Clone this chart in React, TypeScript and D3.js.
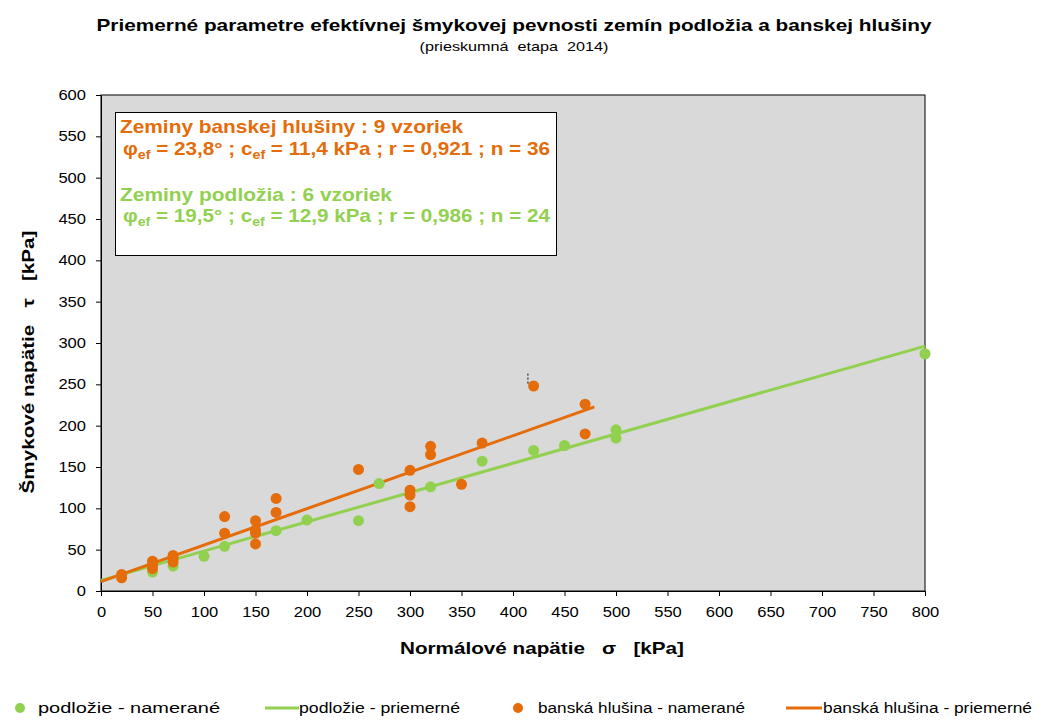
import React, { useRef, useEffect } from 'react'
import * as d3 from 'd3'

// podložie - namerané (sigma, tau) [kPa]
const podlozieSigma = [20, 50, 70, 100, 120, 170, 200, 250, 270, 320, 370, 420, 450, 500, 500, 800]
const podlozieTau = [17, 23, 30, 42, 54, 73, 86, 85, 130, 126, 157, 170, 176, 195, 185, 287]

// banská hlušina - namerané
const hlusinaSigma = [20, 20, 50, 50, 50, 70, 70, 70, 120, 120, 150, 150, 150, 150, 170, 170, 250, 300, 300, 300, 300, 320, 320, 350, 370, 420, 470, 470]
const hlusinaTau = [16, 20, 27, 31, 36, 35, 39, 43, 70, 90, 57, 70, 74, 85, 95, 112, 147, 102, 116, 122, 146, 165, 175, 129, 179, 248, 226, 190]

// priemerné (regression) lines, end points
const podlozieLineSigma = [0, 800]
const podlozieLineTau = [12.9, 296.2]
const hlusinaLineSigma = [0, 479]
const hlusinaLineTau = [11.4, 222.7]

const xTicks = d3.range(0, 801, 50)
const yTicks = d3.range(0, 601, 50)

const legendLabels = ['podložie - namerané', 'podložie - priemerné', 'banská hlušina - namerané', 'banská hlušina - priemerné']

const ORANGE = '#E46C0A'
const GREEN = '#92D050'
const FONT = 'Liberation Sans, Arial, sans-serif'

export default function App() {
    const ref = useRef<SVGSVGElement>(null)

    useEffect(() => {
        const svg = d3.select(ref.current)
        svg.selectAll('*').remove()
        svg.attr('font-family', FONT)

        const x = d3.scaleLinear().domain([0, 800]).range([101, 925])
        const y = d3.scaleLinear().domain([0, 600]).range([591, 95])

        // title
        svg.append('text')
            .attr('x', 514).attr('y', 31)
            .attr('text-anchor', 'middle')
            .attr('font-weight', 'bold').attr('font-size', 17)
            .attr('textLength', 835).attr('lengthAdjust', 'spacingAndGlyphs')
            .text('Priemerné parametre efektívnej šmykovej pevnosti zemín podložia a banskej hlušiny')
        svg.append('text')
            .attr('x', 514).attr('y', 51)
            .attr('text-anchor', 'middle')
            .attr('font-size', 13)
            .attr('textLength', 189).attr('lengthAdjust', 'spacingAndGlyphs')
            .attr('xml:space', 'preserve')
            .text('(prieskumná  etapa  2014)')

        // plot area
        svg.append('rect')
            .attr('x', x(0)).attr('y', y(600))
            .attr('width', x(800) - x(0)).attr('height', y(0) - y(600))
            .attr('fill', '#D9D9D9').attr('stroke', '#000').attr('stroke-width', 1)

        // axes
        const xAxis = svg.append('g')
            .attr('transform', 'translate(0,' + y(0) + ')')
            .call(d3.axisBottom(x).tickValues(xTicks).tickSize(5).tickSizeOuter(0).tickPadding(11))
        const yAxis = svg.append('g')
            .attr('transform', 'translate(' + x(0) + ',0)')
            .call(d3.axisLeft(y).tickValues(yTicks).tickSize(5).tickSizeOuter(0).tickPadding(10))
        for (const g of [xAxis, yAxis]) {
            g.select('.domain').attr('stroke', '#000')
            g.selectAll('line').attr('stroke', '#000')
            g.selectAll('text')
                .attr('font-family', FONT).attr('font-size', 14).attr('fill', '#000')
                .attr('textLength', (d: any) => String(d).length * 9.2)
                .attr('lengthAdjust', 'spacingAndGlyphs')
        }

        // axis titles
        svg.append('text')
            .attr('x', 542).attr('y', 654)
            .attr('text-anchor', 'middle')
            .attr('font-weight', 'bold').attr('font-size', 17)
            .attr('textLength', 284).attr('lengthAdjust', 'spacingAndGlyphs')
            .attr('xml:space', 'preserve')
            .text('Normálové napätie   σ   [kPa]')
        svg.append('text')
            .attr('transform', 'translate(34,' + 362 + ') rotate(-90)')
            .attr('text-anchor', 'middle')
            .attr('font-weight', 'bold').attr('font-size', 17)
            .attr('textLength', 263).attr('lengthAdjust', 'spacingAndGlyphs')
            .attr('xml:space', 'preserve')
            .text('Šmykové napätie   τ   [kPa]')

        // regression lines
        const line = d3.line<[number, number]>().x((d) => x(d[0])).y((d) => y(d[1]))
        svg.append('path')
            .datum(d3.zip(podlozieLineSigma, podlozieLineTau) as [number, number][])
            .attr('d', line).attr('fill', 'none')
            .attr('stroke', GREEN).attr('stroke-width', 3)
        svg.append('path')
            .datum(d3.zip(hlusinaLineSigma, hlusinaLineTau) as [number, number][])
            .attr('d', line).attr('fill', 'none')
            .attr('stroke', ORANGE).attr('stroke-width', 3)

        // measured points
        svg.append('g')
            .selectAll('circle')
            .data(d3.zip(podlozieSigma, podlozieTau))
            .join('circle')
            .attr('cx', (d) => x(d[0])).attr('cy', (d) => y(d[1]))
            .attr('r', 5.5).attr('fill', GREEN)
        svg.append('g')
            .selectAll('circle')
            .data(d3.zip(hlusinaSigma, hlusinaTau))
            .join('circle')
            .attr('cx', (d) => x(d[0])).attr('cy', (d) => y(d[1]))
            .attr('r', 5.5).attr('fill', ORANGE)

        // small dashed mark above the 420 point
        svg.append('line')
            .attr('x1', x(414.5)).attr('x2', x(414.5))
            .attr('y1', y(263)).attr('y2', y(249))
            .attr('stroke', '#000').attr('stroke-width', 1)
            .attr('stroke-dasharray', '2,2')

        // annotation box
        svg.append('rect')
            .attr('x', 115.5).attr('y', 112.5).attr('width', 441).attr('height', 143)
            .attr('fill', '#fff').attr('stroke', '#000').attr('stroke-width', 1)

        const heading = (txt: string, yy: number, color: string, len: number) =>
            svg.append('text')
                .attr('x', 120).attr('y', yy)
                .attr('font-weight', 'bold').attr('font-size', 19).attr('fill', color)
                .attr('textLength', len).attr('lengthAdjust', 'spacingAndGlyphs')
                .text(txt)
        const params = (phi: string, rest: string, yy: number, color: string) => {
            const t = svg.append('text')
                .attr('x', 123).attr('y', yy)
                .attr('font-weight', 'bold').attr('font-size', 19).attr('fill', color)
                .attr('textLength', 427).attr('lengthAdjust', 'spacingAndGlyphs')
            t.append('tspan').text('φ')
            t.append('tspan').attr('font-size', 13).attr('dy', 4).text('ef')
            t.append('tspan').attr('dy', -4).text(' = ' + phi + ' ; c')
            t.append('tspan').attr('font-size', 13).attr('dy', 4).text('ef')
            t.append('tspan').attr('dy', -4).text(rest)
        }
        heading('Zeminy banskej hlušiny : 9 vzoriek', 133, ORANGE, 343)
        params('23,8°', ' = 11,4 kPa ; r = 0,921 ; n = 36', 155, ORANGE)
        heading('Zeminy podložia : 6 vzoriek', 201, GREEN, 272)
        params('19,5°', ' = 12,9 kPa ; r = 0,986 ; n = 24', 222, GREEN)

        // legend
        const ly = 708
        const lg = svg.append('g').attr('font-size', 14)
        lg.append('circle').attr('cx', 20).attr('cy', ly).attr('r', 5).attr('fill', GREEN)
        lg.append('text').attr('x', 38).attr('y', ly + 5).text(legendLabels[0])
            .attr('textLength', 182).attr('lengthAdjust', 'spacingAndGlyphs')
        lg.append('line').attr('x1', 265).attr('x2', 299).attr('y1', ly).attr('y2', ly)
            .attr('stroke', GREEN).attr('stroke-width', 3)
        lg.append('text').attr('x', 299).attr('y', ly + 5).text(legendLabels[1])
            .attr('textLength', 161).attr('lengthAdjust', 'spacingAndGlyphs')
        lg.append('circle').attr('cx', 518).attr('cy', ly).attr('r', 5).attr('fill', ORANGE)
        lg.append('text').attr('x', 538).attr('y', ly + 5).text(legendLabels[2])
            .attr('textLength', 207).attr('lengthAdjust', 'spacingAndGlyphs')
        lg.append('line').attr('x1', 786).attr('x2', 822).attr('y1', ly).attr('y2', ly)
            .attr('stroke', ORANGE).attr('stroke-width', 3)
        lg.append('text').attr('x', 823).attr('y', ly + 5).text(legendLabels[3])
            .attr('textLength', 209).attr('lengthAdjust', 'spacingAndGlyphs')
    }, [])

    return <svg ref={ref} width={1045} height={721} style={{ position: 'absolute', left: 0, top: 0, background: '#fff' }}></svg>
}
